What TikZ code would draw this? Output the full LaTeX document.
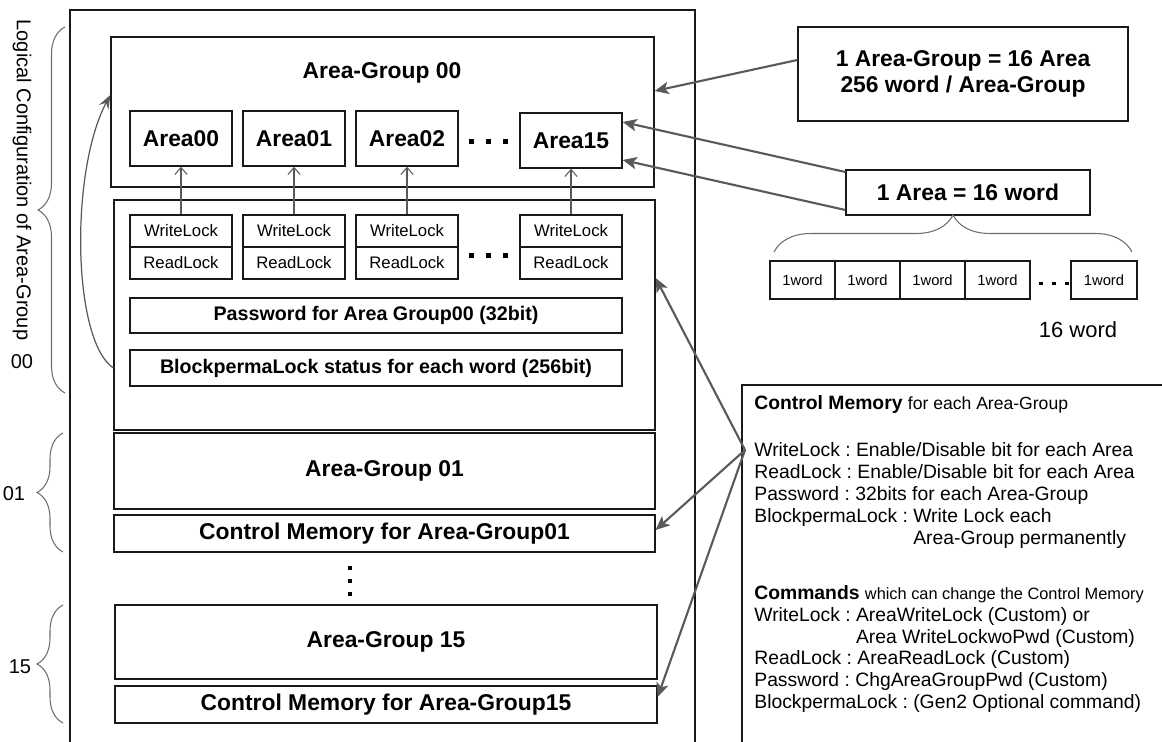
\documentclass[tikz,border=0pt]{standalone}
\usepackage{fontspec}
\setmainfont{Liberation Sans}
\usetikzlibrary{arrows.meta,decorations.pathreplacing}

\definecolor{arrgray}{RGB}{90,90,84}
\definecolor{brcgray}{RGB}{110,110,105}
\definecolor{boxline}{RGB}{25,25,25}

\tikzset{
  box/.style={draw=boxline, line width=0.8pt, inner sep=0pt},
  frame/.style={draw=boxline, line width=0.8pt},
  title/.style={font=\fontsize{13}{15}\selectfont\bfseries},
  areabox/.style={box, minimum width=2.04cm, minimum height=1.1cm, font=\fontsize{13}{15}\selectfont\bfseries},
  lockbox/.style={box, minimum width=2.04cm, minimum height=0.64cm, font=\fontsize{9.5}{11}\selectfont},
  wordbox/.style={box, minimum width=1.3cm, minimum height=0.76cm, font=\fontsize{8.4}{10}\selectfont},
  lbl/.style={font=\fontsize{11.4}{13}\selectfont, inner sep=0pt},
  lockarr/.style={draw=arrgray, line width=0.6pt, -{Straight Barb[length=4pt,width=7pt]}},
  longarr/.style={draw=arrgray, line width=1.2pt, -{Stealth[length=8pt,width=7pt,inset=2pt]}},
  curvarr/.style={draw=arrgray, line width=0.7pt, -{Stealth[length=8pt,width=6pt,inset=3pt]}},
  brc/.style={draw=brcgray, line width=0.6pt, decorate},
  dotsq/.style={fill=black}
}

\begin{document}
\frenchspacing
\begin{tikzpicture}[x=0.02cm, y=-0.02cm]
\useasboundingbox (0,0) rectangle (1162,742);

% memory frame
\draw[frame] (70,742) -- (70,10) -- (695,10) -- (695,742);

% Area-Group 00
\node[box, minimum width=10.86cm, minimum height=3cm] (ag00) at (382.5,112) {};
\node[title] (ag00t) at (382,73) {Area-Group 00};
\node[areabox] (a00) at (181,138.5) {Area00};
\node[areabox] (a01) at (294,138.5) {Area01};
\node[areabox] (a02) at (407,138.5) {Area02};
\node[areabox] (a15) at (571,140.5) {Area15};
\fill[dotsq] (469,139) rectangle ++(5,5); \fill[dotsq] (486,139) rectangle ++(5,5); \fill[dotsq] (503,139) rectangle ++(5,5);

% control memory of Area-Group 00
\node[box, minimum width=10.82cm, minimum height=4.6cm] (cm00) at (384.5,315) {};
\node[lockbox] (wl00) at (181,231) {WriteLock}; \node[lockbox] (rl00) at (181,263) {ReadLock};
\node[lockbox] (wl01) at (294,231) {WriteLock}; \node[lockbox] (rl01) at (294,263) {ReadLock};
\node[lockbox] (wl02) at (407,231) {WriteLock}; \node[lockbox] (rl02) at (407,263) {ReadLock};
\node[lockbox] (wl15) at (571,231) {WriteLock}; \node[lockbox] (rl15) at (571,263) {ReadLock};
\fill[dotsq] (469,253) rectangle ++(5,5); \fill[dotsq] (486,253) rectangle ++(5,5); \fill[dotsq] (503,253) rectangle ++(5,5);
\node[box, minimum width=9.84cm, minimum height=0.7cm, font=\fontsize{11.2}{13}\selectfont\bfseries] (pwd) at (376,315.5) {Password for Area Group00 (32bit)};
\node[box, minimum width=9.84cm, minimum height=0.72cm, font=\fontsize{11.2}{13}\selectfont\bfseries] (bpl) at (376,368) {BlockpermaLock status for each word (256bit)};

\draw[lockarr] (wl00) to (a00); \draw[lockarr] (wl01) to (a01);
\draw[lockarr] (wl02) to (a02); \draw[lockarr] (wl15) to (a15);
\draw[curvarr] (cm00.west |- bpl) .. controls (72,340) and (70,170) .. (ag00.west |- 0,95);

% Area-Group 01 and 15
\node[box, minimum width=10.82cm, minimum height=1.52cm, title] (ag01) at (384.5,471) {Area-Group 01};
\node[box, minimum width=10.82cm, minimum height=0.74cm, title] (cm01) at (384.5,533.5) {Control Memory for Area-Group01};
\fill[dotsq] (348,566) rectangle ++(4,4); \fill[dotsq] (348,579) rectangle ++(4,4); \fill[dotsq] (348,592) rectangle ++(4,4);
\node[box, minimum width=10.84cm, minimum height=1.48cm, title] (ag15) at (386,642) {Area-Group 15};
\node[box, minimum width=10.84cm, minimum height=0.74cm, title] (cm15) at (386,704.5) {Control Memory for Area-Group15};

% braces on the left
\draw[brc, decoration={brace, amplitude=0.54cm}] (65,393) -- (65,27);
\draw[brc, decoration={brace, amplitude=0.52cm}] (63,552) -- (63,433);
\draw[brc, decoration={brace, amplitude=0.52cm}] (63,723) -- (63,605);
\node[lbl, rotate=-90] (lcfg) at (22,180) {Logical Configuration of Area-Group};
\node[lbl] (g00) at (22,362) {00};
\node[lbl] (g01) at (14,494) {01};
\node[lbl] (g15) at (20,667) {15};

% notes on the right
\node[box, minimum width=6.6cm, minimum height=1.88cm, align=center, font=\fontsize{13}{14.8}\selectfont\bfseries] (note1) at (963,74) {1 Area-Group = 16 Area\\256 word / Area-Group};
\node[box, minimum width=4.88cm, minimum height=0.9cm, font=\fontsize{13}{15}\selectfont\bfseries] (note2) at (968,192.5) {1 Area = 16 word};
\draw[longarr] (note1.west |- 0,60) -- (ag00.east |- 0,91);
\draw[longarr] (note2.west |- 0,172) -- (a15.east |- 0,122);
\draw[longarr] (note2.west |- 0,210) -- (a15.east |- 0,160);

\draw[brc, decoration={brace, amplitude=0.74cm}] (774,252) -- (1132,252);
\node[wordbox] (w1) at (802.5,280) {1word};
\node[wordbox] (w2) at (867.5,280) {1word};
\node[wordbox] (w3) at (932.5,280) {1word};
\node[wordbox] (w4) at (997.5,280) {1word};
\node[wordbox, minimum width=1.32cm] (w16) at (1104,280) {1word};
\fill[dotsq] (1039,282) rectangle ++(3.5,3.5); \fill[dotsq] (1052,282) rectangle ++(3.5,3.5); \fill[dotsq] (1065,282) rectangle ++(3.5,3.5);
\node[font=\fontsize{12.5}{14}\selectfont] (w16t) at (1078,330) {16 word};

% control memory description
\draw[frame] (742,742) |- (1162,385);
\node[anchor=north west, inner sep=0pt, align=left, font=\fontsize{11}{12.5}\selectfont] (cmnote) at (754,395) {%
\textbf{Control Memory} {\fontsize{10}{12.5}\selectfont for each Area-Group}\\[14.2pt]
WriteLock : Enable/Disable bit for each Area\\
ReadLock : Enable/Disable bit for each Area\\
Password : 32bits for each Area-Group\\
BlockpermaLock : Write Lock each\\
\phantom{BlockpermaLock : }Area-Group permanently\\[18.8pt]
\textbf{Commands} {\fontsize{9.3}{12.5}\selectfont which can change the Control Memory}\\
WriteLock : AreaWriteLock (Custom) or\\
\phantom{WriteLock : }Area WriteLockwoPwd (Custom)\\
ReadLock : AreaReadLock (Custom)\\
Password : ChgAreaGroupPwd (Custom)\\
BlockpermaLock : (Gen2 Optional command)};
\coordinate (cmsrc) at (745,450);
\draw[longarr] (cmsrc) -- (cm00.east |- 0,278);
\draw[longarr] (cmsrc) -- (cm01.east |- 0,530);
\draw[longarr] (cmsrc) -- (cm15.east |- 0,697);

\end{tikzpicture}
\end{document}
